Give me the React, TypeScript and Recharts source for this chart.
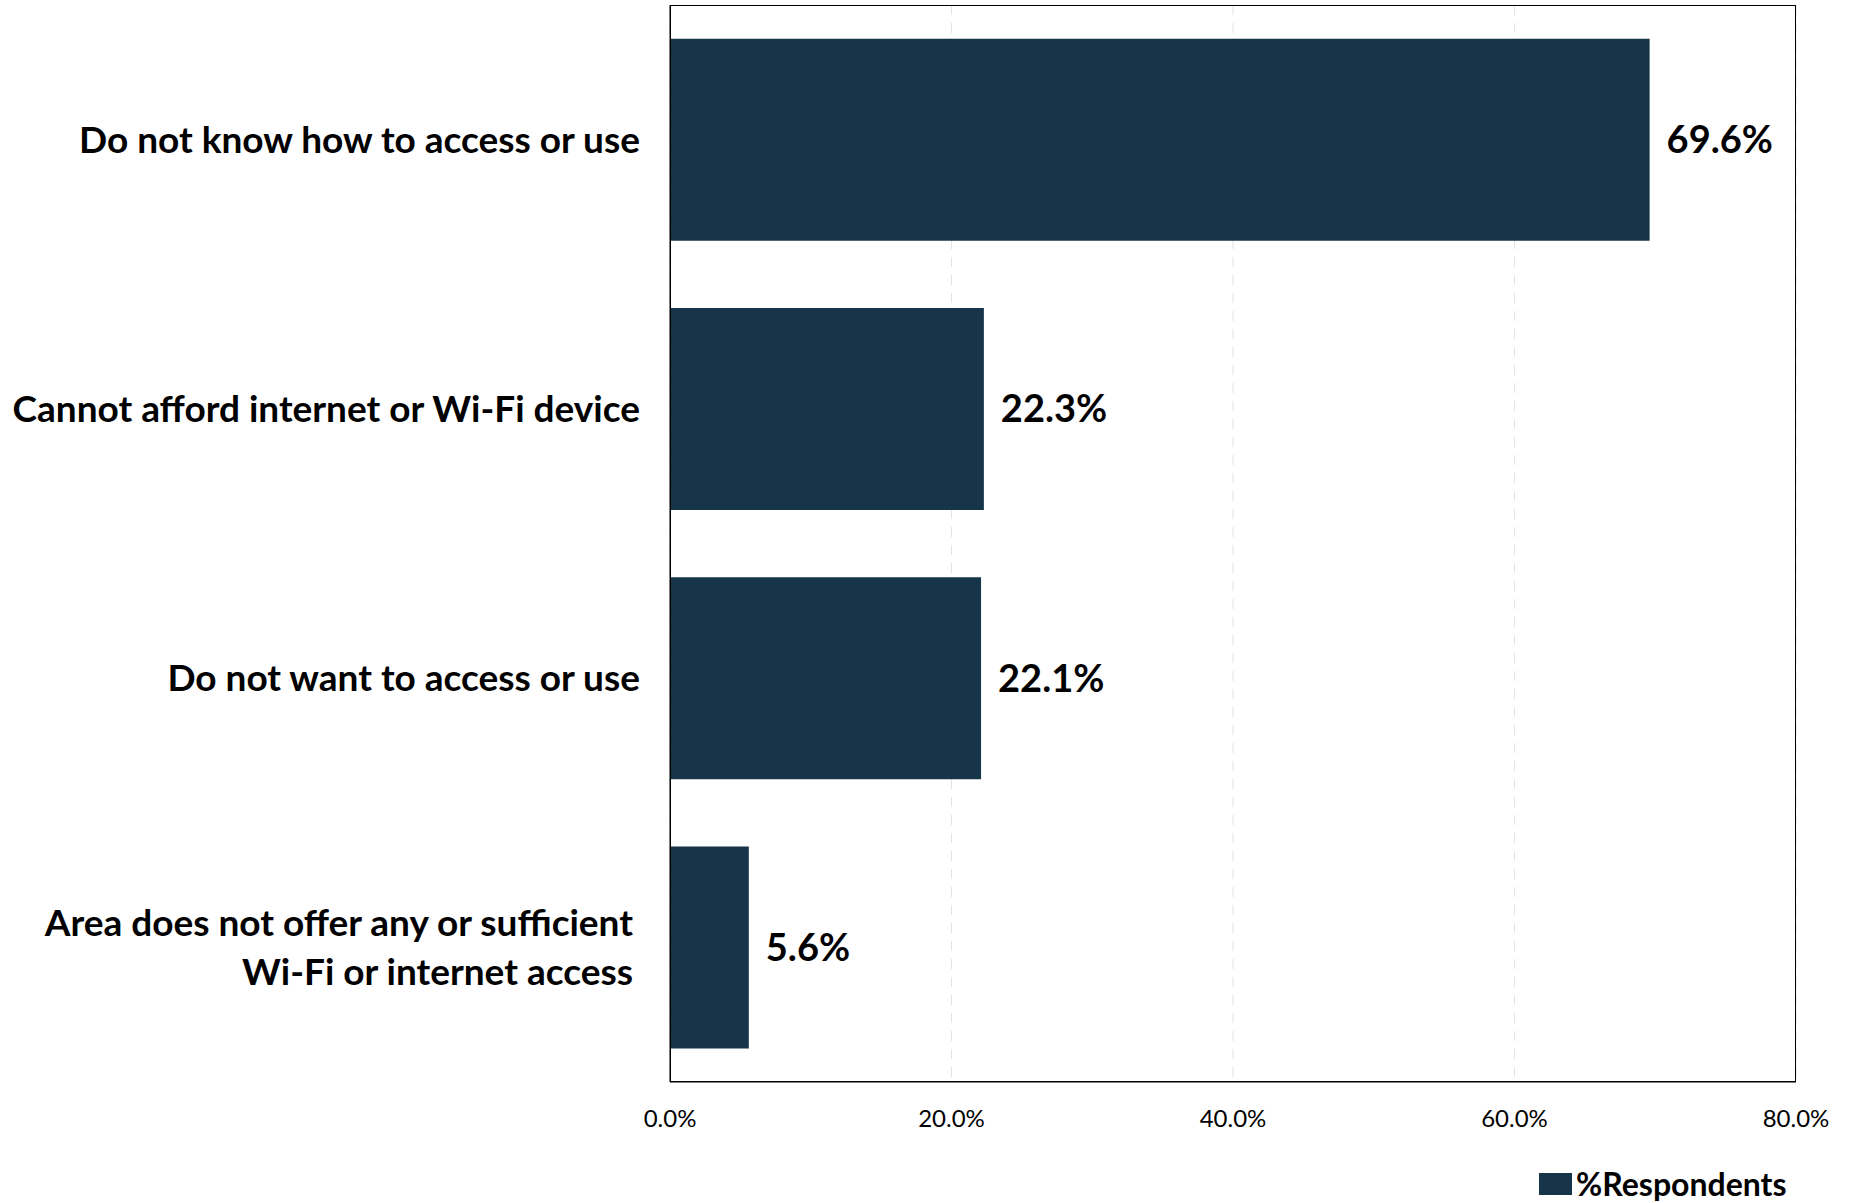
import React from "react";
import { ComposedChart, Bar, XAxis, YAxis, CartesianGrid, LabelList, Legend } from "recharts";

const categories = [
  "Do not know how to access or use",
  "Cannot afford internet or Wi-Fi device",
  "Do not want to access or use",
  "Area does not offer any or sufficient\nWi-Fi or internet access",
];
const respondents = [69.6, 22.3, 22.1, 5.6];
const xTicks = [0, 20, 40, 60, 80];
const seriesName = "%Respondents";

const BAR = "#163549";
const FONT = "Lato, 'Open Sans', sans-serif";

const data = categories.map((c, i) => ({ name: c, value: respondents[i] }));

// plot frame in page pixels
const PLOT = { left: 670, top: 5, right: 1796, bottom: 1082 };

function CategoryTick(props: any) {
  const { x, y, payload } = props;
  const lines = String(payload.value).split("\n");
  const lh = 49;
  const shift = lines.length > 1 ? -7 : 0;
  return (
    <text
      x={x + shift}
      y={y}
      textAnchor="end"
      fontFamily={FONT}
      fontWeight={700}
      fontSize={37}
      fill="#000"
    >
      {lines.map((l, i) => (
        <tspan key={i} x={x + shift} dy={i === 0 ? ((1 - lines.length) * lh) / 2 + 13 : lh}>
          {l}
        </tspan>
      ))}
    </text>
  );
}

function LegendBox() {
  return (
    <div style={{ display: "flex", alignItems: "center", fontFamily: FONT, fontWeight: 700, fontSize: 32, color: "#000" }}>
      <span style={{ display: "inline-block", width: 33, height: 22, background: BAR, marginRight: 4 }} />
      <span>{seriesName}</span>
    </div>
  );
}

export default function App() {
  return (
    <div style={{ position: "absolute", left: 0, top: 0, background: "#fff" }}>
      <ComposedChart
        width={1852}
        height={1203}
        data={data}
        layout="vertical"
        margin={{ top: PLOT.top, right: 1852 - PLOT.right, bottom: 1203 - PLOT.bottom - 60, left: 0 }}
        barCategoryGap="12.5%"
      >
        <CartesianGrid horizontal={false} stroke="#e3e3e3" strokeDasharray="10 8" />
        <XAxis
          type="number"
          domain={[0, 80]}
          ticks={xTicks}
          tickFormatter={(v) => `${Number(v).toFixed(1)}%`}
          axisLine={{ stroke: "#000", strokeWidth: 1 }}
          tickLine={false}
          tick={{ fill: "#000", fontSize: 24, fontFamily: FONT }}
          tickMargin={22}
          height={60}
        />
        <YAxis
          type="category"
          dataKey="name"
          width={PLOT.left}
          axisLine={{ stroke: "#000", strokeWidth: 1 }}
          tickLine={false}
          tick={<CategoryTick />}
          tickMargin={24}
        />
        <Legend
          layout="horizontal"
          verticalAlign="middle"
          align="center"
          content={<LegendBox />}
          wrapperStyle={{ position: "absolute", left: 1539, top: 1164, width: 300 }}
        />
        <Bar dataKey="value" name={seriesName} fill={BAR} isAnimationActive={false}>
          <LabelList
            dataKey="value"
            position="right"
            offset={17}
            formatter={(v: any) => `${Number(v).toFixed(1)}%`}
            style={{ fill: "#000", fontSize: 38, fontWeight: 700, fontFamily: FONT }}
          />
        </Bar>
      </ComposedChart>
      <div
        style={{
          position: "absolute",
          left: PLOT.left,
          top: PLOT.top,
          width: PLOT.right - PLOT.left,
          height: PLOT.bottom - PLOT.top,
          border: "1px solid #000",
          boxSizing: "border-box",
          pointerEvents: "none",
        }}
      />
    </div>
  );
}
